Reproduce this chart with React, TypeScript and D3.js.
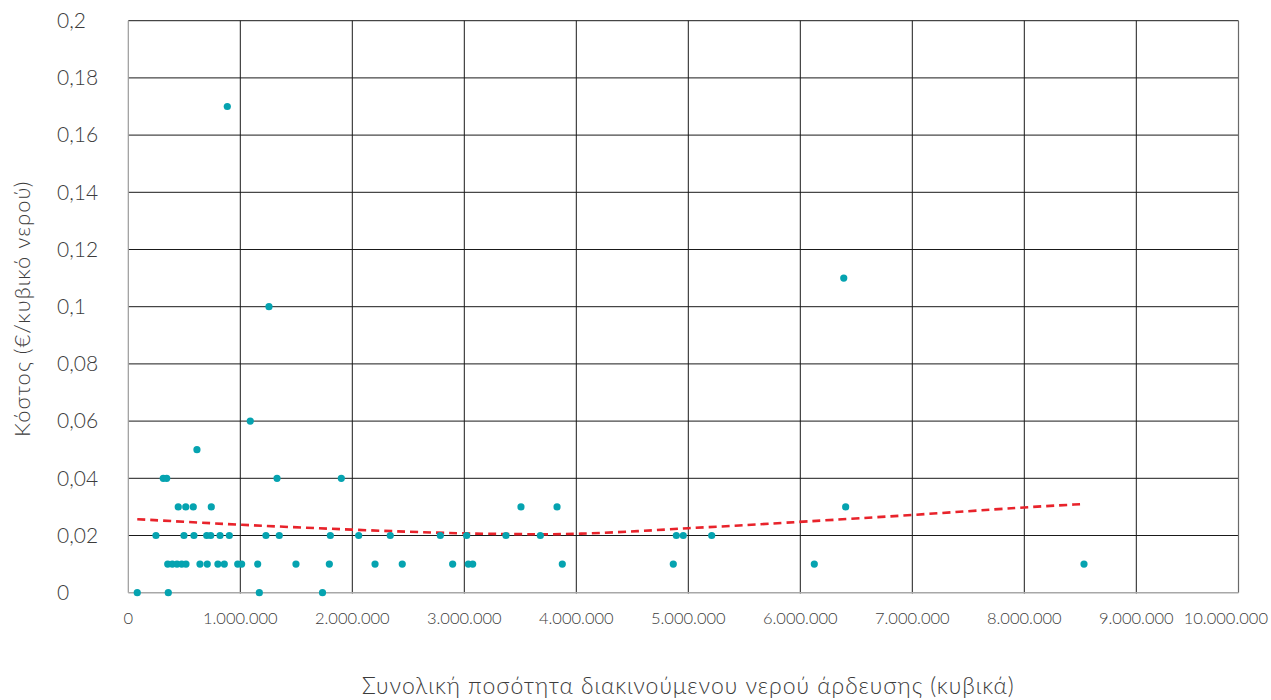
import React from "react";
import * as d3 from "d3";

// Irrigation water volume handled (m³) and cost per cubic metre (€)
const volumes = [
  80000, 357000, 1170000, 1734000,
  352000, 393000, 435000, 477000, 515000, 640000, 705000, 800000, 857000, 977000,
  1012000, 1155000, 1497000, 1795000, 2203000, 2446000, 2896000, 3036000, 3075000,
  3875000, 4866000, 6125000, 8533000,
  247000, 497000, 586000, 700000, 736000, 819000, 902000, 1229000, 1348000, 1804000,
  2057000, 2339000, 2786000, 3021000, 3372000, 3679000, 4893000, 4955000, 5209000,
  446000, 513000, 580000, 741000, 3506000, 3828000, 6405000,
  312000, 343000, 1328000, 1902000,
  613000,
  1089000,
  1256000,
  6388000,
  884000,
];

const costs = [
  0, 0, 0, 0,
  0.01, 0.01, 0.01, 0.01, 0.01, 0.01, 0.01, 0.01, 0.01, 0.01,
  0.01, 0.01, 0.01, 0.01, 0.01, 0.01, 0.01, 0.01, 0.01,
  0.01, 0.01, 0.01, 0.01,
  0.02, 0.02, 0.02, 0.02, 0.02, 0.02, 0.02, 0.02, 0.02, 0.02,
  0.02, 0.02, 0.02, 0.02, 0.02, 0.02, 0.02, 0.02, 0.02,
  0.03, 0.03, 0.03, 0.03, 0.03, 0.03, 0.03,
  0.04, 0.04, 0.04, 0.04,
  0.05,
  0.06,
  0.1,
  0.11,
  0.17,
];

// Trend line (polynomial trend of the cost series), sampled along the volume axis
const trendVolumes = [80000, 1e6, 2e6, 3e6, 3.68e6, 4e6, 4.57e6, 5e6, 5.43e6, 6e6, 7e6, 8e6, 8533000];
const trendCosts = [0.0257, 0.0237, 0.022, 0.0206, 0.0204, 0.0205, 0.0215, 0.0226, 0.0234, 0.0248, 0.0271, 0.0299, 0.031];

const xTicks = [0, 1e6, 2e6, 3e6, 4e6, 5e6, 6e6, 7e6, 8e6, 9e6, 1e7];
const yTicks = [0, 0.02, 0.04, 0.06, 0.08, 0.1, 0.12, 0.14, 0.16, 0.18, 0.2];

const xTitle = "Συνολική ποσότητα διακινούμενου νερού άρδευσης (κυβικά)";
const yTitle = "Κόστος (€/κυβικό νερού)";

const W = 1271;
const H = 700;
const M = { left: 128.3, top: 20.7, bottom: 592.7, right: 1238.5 };

const greek = d3.formatLocale({
  decimal: ",",
  thousands: ".",
  grouping: [3],
  currency: ["", " €"],
});
const fmtX = greek.format(",");
const fmtY = greek.format(".2~f");

export default function App() {
  const x = d3.scaleLinear().domain([0, 1e7]).range([M.left, 1248.3]);
  const y = d3.scaleLinear().domain([0, 0.2]).range([M.bottom, M.top]);

  const trendPath =
    d3
      .line<number>()
      .x((_, i) => x(trendVolumes[i]))
      .y((c) => y(c))
      .curve(d3.curveBasis)(trendCosts) ?? "";

  const textColor = "#3c3c3c";
  const font = "Lato, 'Open Sans', sans-serif";

  return (
    <div style={{ position: "absolute", left: 0, top: 0 }}>
      <svg width={W} height={H} style={{ display: "block", background: "#fff" }}>
        {/* horizontal grid */}
        {yTicks.slice(1).map((t) => (
          <line key={"h" + t} x1={M.left} x2={M.right} y1={y(t)} y2={y(t)} stroke="#1a1a1a" strokeWidth={1} />
        ))}
        {/* vertical grid */}
        {xTicks.filter((t) => t > 0 && x(t) < M.right).map((t) => (
          <line key={"v" + t} x1={x(t)} x2={x(t)} y1={M.top} y2={M.bottom + 0.8} stroke="#1a1a1a" strokeWidth={1} />
        ))}
        {/* frame */}
        <line x1={M.left} x2={M.left} y1={M.top} y2={M.bottom} stroke="#9a9a9a" strokeWidth={1.2} />
        <line x1={M.right} x2={M.right} y1={M.top} y2={M.bottom} stroke="#6a6a6a" strokeWidth={1.2} />
        <line x1={M.left} x2={M.right} y1={y(0)} y2={y(0)} stroke="#a8a8a8" strokeWidth={1.6} />

        {/* trend line */}
        <path d={trendPath} fill="none" stroke="#e8232b" strokeWidth={2.6} strokeDasharray="8,5" />

        {/* points */}
        {volumes.map((v, i) => (
          <circle key={i} cx={x(v)} cy={y(costs[i])} r={3.6} fill="#05a3b0" />
        ))}

        {/* y tick labels */}
        {yTicks.map((t) => (
          <text key={"yl" + t} x={57} y={y(t)} dy="0.35em" fontSize={21} fontWeight={300} fontFamily={font} fill={textColor}>
            {fmtY(t)}
          </text>
        ))}
        {/* x tick labels */}
        {xTicks.map((t, i) => {
          const last = i === xTicks.length - 1;
          return (
            <text
              key={"xl" + t}
              x={last ? W - 3 : x(t)}
              y={624}
              textAnchor={last ? "end" : "middle"}
              fontSize={16.5}
              fontWeight={300}
              fontFamily={font}
              fill={textColor}
            >
              {fmtX(t)}
            </text>
          );
        })}

        {/* axis titles */}
        <text
          x={(M.left + 1248.3) / 2}
          y={694}
          textAnchor="middle"
          fontSize={23}
          fontWeight={300}
          letterSpacing={0.95}
          fontFamily={font}
          fill={textColor}
        >
          {xTitle}
        </text>
        <text
          transform={`translate(30, ${(M.top + M.bottom) / 2 + 2}) rotate(-90)`}
          textAnchor="middle"
          fontSize={22}
          fontWeight={300}
          letterSpacing={1}
          fontFamily={font}
          fill={textColor}
        >
          {yTitle}
        </text>
      </svg>
    </div>
  );
}
